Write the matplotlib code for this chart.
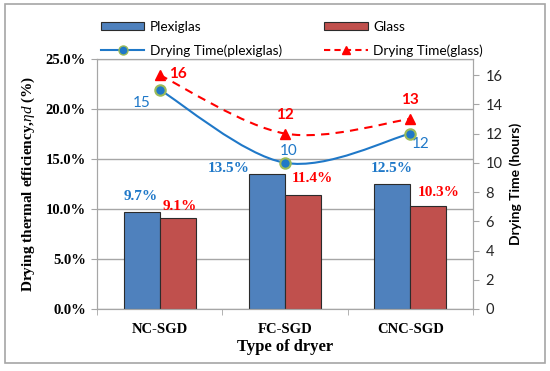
import matplotlib
matplotlib.use('Agg')
import matplotlib.pyplot as plt
import numpy as np
from matplotlib.path import Path
from matplotlib.patches import PathPatch, Rectangle
from matplotlib.lines import Line2D
from matplotlib.ticker import FixedLocator

# data
dryers = ['NC-SGD', 'FC-SGD', 'CNC-SGD']
eff_plexi = [9.7, 13.5, 12.5]
eff_glass = [9.1, 11.4, 10.3]
time_plexi = [15, 10, 12]
time_glass = [16, 12, 13]

BAR_BLUE = '#4F81BD'
BAR_RED = '#C0504D'
LINE_BLUE = '#1F78C8'
TXT_BLUE = '#1F78C8'
RED = '#FF0000'
SERIF = 'Liberation Serif'
SANS = 'Lato'

plt.rcParams['mathtext.fontset'] = 'custom'
plt.rcParams['mathtext.it'] = 'Liberation Serif:italic'
plt.rcParams['mathtext.rm'] = 'Liberation Serif:bold'

fig = plt.figure(figsize=(5.5, 3.71), dpi=100)
fig.patches.append(Rectangle((5 / 550, 1 - 363 / 371), 540 / 550, 359 / 371,
                             transform=fig.transFigure, fill=False,
                             edgecolor='#A6A6A6', linewidth=1.2))

ax = fig.add_axes([97 / 550, 1 - 309 / 371, 376 / 550, 250 / 371])
x = np.arange(len(dryers))
w = 0.287
ax.bar(x - w / 2, eff_plexi, w, color=BAR_BLUE, edgecolor='#2B2B2B',
       linewidth=0.8, label='Plexiglas', zorder=2)
ax.bar(x + w / 2, eff_glass, w, color=BAR_RED, edgecolor='#2B2B2B',
       linewidth=0.8, label='Glass', zorder=2)

ax.set_xlim(-0.5, 2.5)
ax.set_ylim(0, 25)
ax.set_yticks(np.arange(0, 26, 5))
ax.set_yticklabels(['%.1f%%' % v for v in np.arange(0, 26, 5)],
                   fontfamily=SERIF, fontweight='bold', fontsize=10.5)
ax.grid(axis='y', color='#A6A6A6', linewidth=1.0, zorder=0)
ax.set_axisbelow(True)
ax.set_xticks(x)
ax.set_xticklabels(dryers, fontfamily=SERIF, fontweight='bold', fontsize=10.5)
ax.xaxis.set_minor_locator(FixedLocator([-0.5, 0.5, 1.5, 2.5]))
ax.tick_params(axis='x', which='major', length=0, pad=10)
ax.tick_params(axis='x', which='minor', length=4, color='#A6A6A6')
ax.tick_params(axis='y', length=4, color='#A6A6A6', pad=4)
for s in ax.spines.values():
    s.set_color('#A6A6A6')
ax.set_xlabel('Type of dryer', fontfamily=SERIF, fontweight='bold',
              fontsize=12, labelpad=2)
ax.set_ylabel(r'Drying thermal efficiency,$\eta d$ (%)', fontfamily=SERIF,
              fontweight='bold', fontsize=11, labelpad=6)

ax2 = ax.twinx()
ax2.set_ylim(0, 17.1)
ax2.set_yticks(np.arange(0, 17, 2))
ax2.set_yticklabels([str(v) for v in range(0, 17, 2)], fontfamily=SANS,
                    fontsize=10.5, color='#262626')
ax2.tick_params(axis='y', length=4, color='#A6A6A6', pad=5)
for s in ax2.spines.values():
    s.set_color('#A6A6A6')
ax2.set_ylabel('Drying Time (hours)', fontfamily=SANS, fontweight='bold',
               fontsize=10, labelpad=5)


def smooth_path(xs, ys):
    # Bezier segments through the points (like Excel's smoothed line)
    pts = np.column_stack([xs, ys]).astype(float)
    n = len(pts)
    verts = [pts[0]]
    codes = [Path.MOVETO]
    for i in range(n - 1):
        p_prev = pts[max(i - 1, 0)]
        p0, p1 = pts[i], pts[i + 1]
        p_next = pts[min(i + 2, n - 1)]
        c1 = p0 + (p1 - p_prev) / 6
        c2 = p1 - (p_next - p0) / 6
        verts += [c1, c2, p1]
        codes += [Path.CURVE4] * 3
    return Path(verts, codes)


ax2.add_patch(PathPatch(smooth_path(x, time_plexi), fill=False,
                        edgecolor=LINE_BLUE, linewidth=1.5, zorder=3))
ax2.add_patch(PathPatch(smooth_path(x, time_glass), fill=False,
                        edgecolor=RED, linewidth=1.5, linestyle=(0, (4, 3)),
                        zorder=3))
ax2.plot(x, time_plexi, linestyle='none', marker='o', markersize=7.5,
         markerfacecolor=LINE_BLUE, markeredgecolor='#9BBB59',
         markeredgewidth=1.5, zorder=4)
ax2.plot(x, time_glass, linestyle='none', marker='^', markersize=6.5,
         color=RED, zorder=4)

# bar labels (offsets in pixels)
off_plexi = [(-1, 15), (-38, 6), (-1, 15)]
off_glass = [(2, 11), (9, 16), (10, 13)]
for i in range(3):
    ax.annotate('%.1f%%' % eff_plexi[i], (x[i] - w / 2, eff_plexi[i]),
                xytext=off_plexi[i], textcoords='offset pixels', ha='center',
                va='center', color=TXT_BLUE, fontfamily=SERIF,
                fontweight='bold', fontsize=11)
    ax.annotate('%.1f%%' % eff_glass[i], (x[i] + w / 2, eff_glass[i]),
                xytext=off_glass[i], textcoords='offset pixels', ha='center',
                va='center', color=RED, fontfamily=SERIF,
                fontweight='bold', fontsize=11)

# line labels
off_tp = [(-18, -13), (4, 12), (10, -10)]
off_tg = [(18, 1), (0, 19), (0, 19)]
for i in range(3):
    ax2.annotate(str(time_plexi[i]), (x[i], time_plexi[i]), xytext=off_tp[i],
                 textcoords='offset pixels', ha='center', va='center',
                 color=TXT_BLUE, fontfamily=SANS, fontsize=11)
    ax2.annotate(str(time_glass[i]), (x[i], time_glass[i]), xytext=off_tg[i],
                 textcoords='offset pixels', ha='center', va='center',
                 color=RED, fontfamily=SANS, fontweight='bold', fontsize=11)

handles = [
    Rectangle((0, 0), 1, 1, facecolor=BAR_BLUE, edgecolor='#2B2B2B', linewidth=0.8),
    Line2D([], [], color=LINE_BLUE, linewidth=1.5, marker='o', markersize=6.5,
           markerfacecolor=LINE_BLUE, markeredgecolor='#9BBB59'),
    Rectangle((0, 0), 1, 1, facecolor=BAR_RED, edgecolor='#2B2B2B', linewidth=0.8),
    Line2D([], [], color=RED, linewidth=1.5, linestyle=(0, (3, 2)), marker='^',
           markersize=6),
]
labels = ['Plexiglas', 'Drying Time(plexiglas)', 'Glass', 'Drying Time(glass)']
fig.legend(handles, labels, ncol=2, loc='upper left',
           bbox_to_anchor=(94 / 550, 1 - 14 / 371), frameon=False,
           prop={'family': SANS, 'size': 9.8}, handlelength=3.2,
           handleheight=0.6, handletextpad=0.4, columnspacing=3.1,
           labelspacing=0.85, borderpad=0)

fig.savefig('out.png', dpi=100)
